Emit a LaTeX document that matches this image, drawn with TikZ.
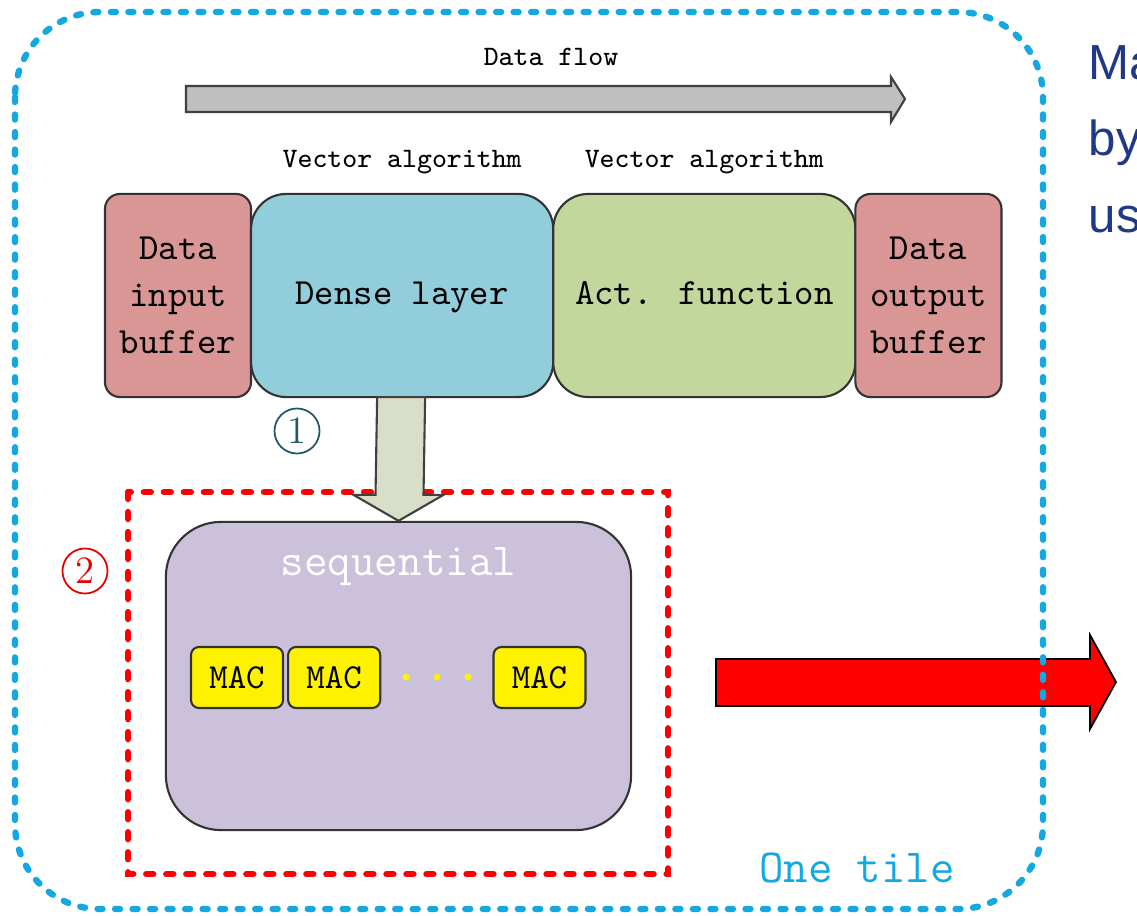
\documentclass[tikz,border=0pt]{standalone}
\usepackage{fontspec}
\newfontfamily\sidefont{Liberation Sans}
\usetikzlibrary{positioning, calc}
\definecolor{bufred}{RGB}{217,150,148}
\definecolor{densecol}{RGB}{146,205,220}
\definecolor{actcol}{RGB}{195,214,155}
\definecolor{seqcol}{RGB}{204,193,218}
\definecolor{arrgreen}{RGB}{216,222,200}
\definecolor{tileblue}{RGB}{20,168,226}
\definecolor{sideblue}{RGB}{31,56,135}
\definecolor{numteal}{RGB}{33,88,104}

\begin{document}
\begin{tikzpicture}[x=0.01cm, y=-0.01cm,
        box/.style={draw=black!80, line width=0.6pt, minimum height=2.03cm, align=center, inner sep=0pt, outer sep=0pt,
            font=\ttfamily\fontsize{10.5}{13.4}\selectfont},
        buf/.style={box, fill=bufred, rounded corners=0.15cm, minimum width=1.46cm},
        layer/.style={box, rounded corners=0.35cm, minimum width=3.02cm},
        lbl/.style={font=\ttfamily\fontsize{8}{10}\selectfont},
        mac/.style={draw=black!80, line width=0.6pt, fill=yellow, rounded corners=0.08cm, minimum width=0.92cm,
            minimum height=0.61cm, inner sep=0pt, font=\ttfamily\fontsize{10}{12}\selectfont},
        num/.style={circle, draw, line width=0.5pt, minimum size=0.45cm, inner sep=0pt, font=\fontsize{11}{13}\selectfont},
        fat/.style={draw=black!75, line width=0.6pt},
        dotted line/.style={line width=1.8pt, line cap=round}]
        \useasboundingbox (0,0) rectangle (1137,916);

        \node[lbl] (flow) at (551,57) {Data flow};
        \draw[fat, fill=black!25] (186,86) -- (891,86) -- (891,77) -- (905,99) -- (891,122) -- (891,112) -- (186,112) -- cycle;

        \node[buf] (in) at (178,295.5) {Data\\input\\buffer};
        \node[layer, fill=densecol] (dense) [right=0pt of in] {Dense layer\strut};
        \node[layer, fill=actcol] (act) [right=0pt of dense] {Act. function\strut};
        \node[buf] (out) [right=0pt of act] {Data\\output\\buffer};
        \node[lbl] (va1) at ($(dense.north)+(0,-32)$) {Vector algorithm};
        \node[lbl] (va2) at ($(act.north)+(0,-32)$) {Vector algorithm};

        \draw[dotted line, red, dash pattern=on 0.07cm off 0.13cm] (128,492) rectangle (668,874);
        \node[draw=black!80, line width=0.6pt, fill=seqcol, rounded corners=0.55cm, minimum width=4.65cm,
            minimum height=3.08cm] (seq) at (398.5,676) {};
        \node[white, font=\ttfamily\fontsize{13}{15}\selectfont] (seqlbl) at ($(seq.north)+(0,46)$) {sequential};
        \node[mac] (mac1) at (237,677.5) {MAC};
        \node[mac] (mac2) [right=0.03cm of mac1] {MAC};
        \node[mac] (mac3) at (539.5,677.5) {MAC};
        \foreach \x in {406,437,468}
            \fill[yellow] (\x,677) circle (0.035cm);

        \draw[fat, fill=arrgreen] ($(dense.south)+(-25,0)$) -- ($(seq.north)+(-23,-26)$) -- ($(seq.north)+(-45,-26)$)
            -- (seq.north) -- ($(seq.north)+(45,-26)$) -- ($(seq.north)+(25,-26)$) -- ($(dense.south)+(23,0)$) -- cycle;
        \node[num, draw=numteal, text=numteal] (n1) at (297,431) {1};
        \node[num, draw=red!90!black, text=red!90!black] (n2) at (85,571) {2};

        \draw[draw=black, line width=0.5pt, fill=red] (716,659) -- (1090,659) -- (1090,635) -- (1116,682)
            -- (1090,729) -- (1090,706) -- (716,706) -- cycle;

        \draw[dotted line, tileblue, dash pattern=on 0.05cm off 0.125cm, rounded corners=0.85cm] (15,12) rectangle (1043,909);
        \node[text=tileblue, font=\ttfamily\fontsize{13.5}{16}\selectfont] (tile) at (857,868) {One tile};

        \node[anchor=base west, inner sep=0pt, text=sideblue, font=\sidefont\fontsize{14}{17}\selectfont] (s1) at (1088,80) {Ma};
        \node[anchor=base west, inner sep=0pt, text=sideblue, font=\sidefont\fontsize{14}{17}\selectfont] (s2) at (1088,156) {by};
        \node[anchor=base west, inner sep=0pt, text=sideblue, font=\sidefont\fontsize{14}{17}\selectfont] (s3) at (1088,233) {us};
    \end{tikzpicture}
\end{document}
